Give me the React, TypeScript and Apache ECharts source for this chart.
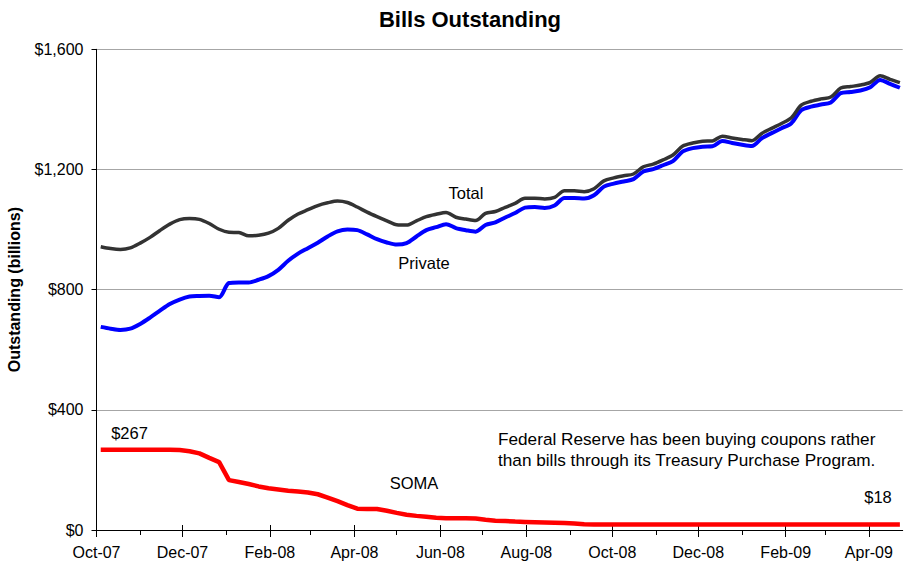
import React, { useEffect, useRef } from "react";
import * as echarts from "echarts";

// ---- Data (weekly, $ billions) ----
const FIRST_WEEK = "2007-10-04";
const AXIS_START = "2007-10-01";
const AXIS_END = "2009-04-25";

const TOTAL = [
  943, 937, 934, 939, 955, 974, 997, 1018, 1033, 1037, 1034, 1020, 1001, 991, 990, 979,
  981, 988, 1004, 1031, 1052, 1066, 1080, 1089, 1095, 1090, 1075, 1058, 1043, 1029, 1016, 1015,
  1029, 1043, 1051, 1057, 1041, 1035, 1030, 1054, 1060, 1074, 1087, 1104, 1104, 1102, 1107, 1129,
  1129, 1126, 1136, 1162, 1172, 1179, 1185, 1209, 1218, 1232, 1248, 1278, 1288, 1294, 1295, 1311,
  1305, 1300, 1296, 1320, 1337, 1353, 1372, 1414, 1427, 1435, 1441, 1471, 1476, 1481, 1490, 1512,
  1500, 1489,
];

const PRIVATE = [
  676, 670, 666, 670, 686, 707, 730, 752, 767, 777, 779, 780, 775, 822, 824, 824,
  833, 845, 866, 896, 920, 938, 956, 977, 994, 1000, 998, 984, 968, 957, 950, 955,
  977, 998, 1008, 1018, 1005, 998, 993, 1015, 1024, 1040, 1055, 1073, 1075, 1072, 1080, 1105,
  1105, 1103, 1114, 1143, 1153, 1160, 1168, 1193, 1201, 1214, 1228, 1260, 1271, 1276, 1277, 1295,
  1288, 1282, 1278, 1304, 1321, 1337, 1354, 1397, 1409, 1416, 1423, 1454, 1458, 1463, 1474, 1498,
  1485, 1472,
];

const SOMA = [
  267, 267, 267, 267, 267, 267, 267, 267, 266, 262, 255, 240, 226, 166, 160, 153,
  145, 139, 135, 131, 128, 125, 119, 108, 96, 83, 71, 70, 70, 64, 57, 51,
  47, 44, 41, 39, 39, 39, 38, 34, 31, 30, 28, 27, 26, 25, 24, 23,
  22, 19, 18, 18, 18, 18, 18, 18, 18, 18, 18, 18, 18, 18, 18, 18,
  18, 18, 18, 18, 18, 18, 18, 18, 18, 18, 18, 18, 18, 18, 18, 18,
  18, 18,
];

const Y_TICKS = [0, 400, 800, 1200, 1600];
const MONTHS = ["Jan", "Feb", "Mar", "Apr", "May", "Jun", "Jul", "Aug", "Sep", "Oct", "Nov", "Dec"];
const NOTE_LINES = [
  "Federal Reserve has been buying coupons rather",
  "than bills through its Treasury Purchase Program.",
];

// ---- helpers ----
const DAY = 86400000;
const toTime = (s: string) => {
  const [y, m, d] = s.split("-").map(Number);
  return Date.UTC(y, m - 1, d);
};
const fmtDate = (t: number) => {
  const d = new Date(t);
  const mm = String(d.getUTCMonth() + 1).padStart(2, "0");
  const dd = String(d.getUTCDate()).padStart(2, "0");
  return `${d.getUTCFullYear()}-${mm}-${dd}`;
};

const DAYS: string[] = [];
for (let t = toTime(AXIS_START); t <= toTime(AXIS_END); t += DAY) DAYS.push(fmtDate(t));

const WEEKS: string[] = PRIVATE.map((_, i) => fmtDate(toTime(FIRST_WEEK) + i * 7 * DAY));

const isMonthStart = (_i: number, v: string) => v.endsWith("-01");
const isMajor = (_i: number, v: string) => v.endsWith("-01") && Number(v.slice(5, 7)) % 2 === 0;
const monthLabel = (v: string) => `${MONTHS[Number(v.slice(5, 7)) - 1]}-${v.slice(2, 4)}`;

const FONT = "'Liberation Sans', Arial, sans-serif";

export default function App() {
  const ref = useRef<HTMLDivElement>(null);

  useEffect(() => {
    if (!ref.current) return;
    const chart = echarts.init(ref.current, undefined, { renderer: "svg" });

    const baseX = {
      type: "category" as const,
      data: DAYS,
      boundaryGap: false,
      gridIndex: 0,
      position: "bottom" as const,
      splitLine: { show: false },
    };

    const textStyle = (size: number, weight: string = "normal") => ({
      fontFamily: FONT,
      fontSize: size,
      fontWeight: weight,
      fill: "#000",
    });

    chart.setOption({
      animation: false,
      backgroundColor: "#fff",
      textStyle: { fontFamily: FONT },
      grid: {
        left: 96.5,
        right: 11.3,
        top: 49.3,
        bottom: 40,
        containLabel: false,
        outerBoundsMode: "none",
      },
      xAxis: [
        {
          ...baseX,
          axisLine: { show: true, lineStyle: { color: "#000", width: 1 } },
          axisTick: { show: true, interval: isMonthStart, length: 5, lineStyle: { color: "#000" } },
          axisLabel: { show: false },
        },
        {
          ...baseX,
          axisLine: { show: false },
          axisTick: { show: true, interval: isMajor, length: 7, lineStyle: { color: "#000" } },
          axisLabel: {
            show: true,
            interval: isMajor,
            formatter: monthLabel,
            margin: 14,
            color: "#000",
            fontSize: 16,
            fontFamily: FONT,
          },
        },
        {
          ...baseX,
          axisLine: { show: false },
          axisTick: { show: true, inside: true, interval: isMajor, length: 5, lineStyle: { color: "#000" } },
          axisLabel: { show: false },
        },
      ],
      yAxis: {
        type: "value",
        min: Y_TICKS[0],
        max: Y_TICKS[Y_TICKS.length - 1],
        interval: Y_TICKS[1] - Y_TICKS[0],
        name: "Outstanding (billions)",
        nameLocation: "middle",
        nameRotate: 90,
        nameGap: 74,
        nameTextStyle: { fontFamily: FONT, fontSize: 16, fontWeight: "bold", color: "#000" },
        axisLine: { show: true, lineStyle: { color: "#000", width: 1 } },
        axisTick: { show: true, length: 5, lineStyle: { color: "#000" } },
        axisLabel: {
          margin: 13,
          color: "#000",
          fontSize: 16,
          fontFamily: FONT,
          formatter: (v: number) => "$" + v.toLocaleString("en-US"),
        },
        splitLine: { show: true, lineStyle: { color: "#a6a6a6", width: 1 } },
      },
      series: [
        {
          name: "Private",
          type: "line",
          xAxisIndex: 0,
          data: WEEKS.map((d, i) => [d, PRIVATE[i]]),
          showSymbol: false,
          smooth: 0.3,
          lineStyle: { color: "#0000ff", width: 4 },
          z: 2,
        },
        {
          name: "Total",
          type: "line",
          xAxisIndex: 0,
          data: WEEKS.map((d, i) => [d, TOTAL[i]]),
          showSymbol: false,
          smooth: 0.3,
          lineStyle: { color: "#333333", width: 3.5 },
          z: 3,
        },
        {
          name: "SOMA",
          type: "line",
          xAxisIndex: 0,
          data: WEEKS.map((d, i) => [d, SOMA[i]]),
          showSymbol: false,
          smooth: false,
          lineStyle: { color: "#ff0000", width: 4.5 },
          z: 2,
        },
      ],
      graphic: [
        {
          type: "text",
          x: 470,
          y: 19,
          style: { ...textStyle(22, "bold"), text: "Bills Outstanding", align: "center", verticalAlign: "middle" },
        },
        {
          type: "text",
          x: 466,
          y: 193,
          style: { ...textStyle(16.5), text: "Total", align: "center", verticalAlign: "middle" },
        },
        {
          type: "text",
          x: 424,
          y: 263,
          style: { ...textStyle(16.5), text: "Private", align: "center", verticalAlign: "middle" },
        },
        {
          type: "text",
          x: 414,
          y: 483,
          style: { ...textStyle(16.5), text: "SOMA", align: "center", verticalAlign: "middle" },
        },
        {
          type: "text",
          x: 129.5,
          y: 433,
          style: { ...textStyle(16.5), text: "$" + SOMA[0], align: "center", verticalAlign: "middle" },
        },
        {
          type: "text",
          x: 878,
          y: 497,
          style: {
            ...textStyle(16.5),
            text: "$" + SOMA[SOMA.length - 1],
            align: "center",
            verticalAlign: "middle",
          },
        },
        {
          type: "text",
          x: 498,
          y: 439,
          style: { ...textStyle(17.2), text: NOTE_LINES[0], align: "left", verticalAlign: "middle" },
        },
        {
          type: "text",
          x: 498,
          y: 459.5,
          style: { ...textStyle(17.2), text: NOTE_LINES[1], align: "left", verticalAlign: "middle" },
        },
      ],
    });

    return () => chart.dispose();
  }, []);

  return (
    <div
      ref={ref}
      style={{ position: "fixed", left: 0, top: 0, width: 914, height: 570, background: "#fff" }}
    />
  );
}
